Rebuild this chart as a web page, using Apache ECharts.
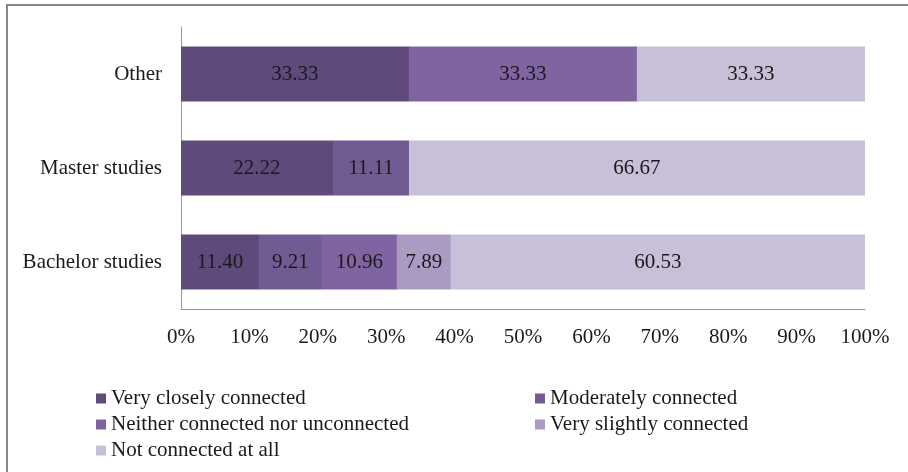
<!DOCTYPE html>
<html>
<head>
<meta charset="utf-8">
<script src="https://cdn.jsdelivr.net/npm/echarts@6/dist/echarts.min.js"></script>
<style>
html,body{margin:0;padding:0;background:#fff;}
#chart{width:908px;height:472px;}
</style>
</head>
<body>
<div id="chart"></div>
<script>
const categories = ['Bachelor studies', 'Master studies', 'Other'];
const seriesNames = ['Very closely connected', 'Moderately connected', 'Neither connected nor unconnected', 'Very slightly connected', 'Not connected at all'];
const veryClosely = [11.40, 22.22, 33.33];
const moderately = [9.21, 11.11, null];
const neither = [10.96, null, 33.33];
const verySlightly = [7.89, null, null];
const notAtAll = [60.53, 66.67, 33.33];
const xTickLabels = ['0%', '10%', '20%', '30%', '40%', '50%', '60%', '70%', '80%', '90%', '100%'];

const colors = ['#5f4a7b', '#725a92', '#8064a2', '#a99bc1', '#c8c0d8'];
const values = [veryClosely, moderately, neither, verySlightly, notAtAll];
const FONT = 'Liberation Serif';

const series = seriesNames.map((name, i) => ({
  name: name,
  type: 'bar',
  stack: 'total',
  barWidth: 55,
  data: values[i],
  itemStyle: { color: colors[i] },
  label: {
    show: true,
    position: 'inside',
    color: '#1a1a1a',
    fontFamily: FONT,
    fontSize: 21,
    formatter: p => (p.value == null ? '' : Number(p.value).toFixed(2))
  },
  emphasis: { disabled: true }
}));

const legendPos = [
  { left: 96, top: 388 },
  { left: 535, top: 388 },
  { left: 96, top: 414 },
  { left: 535, top: 414 },
  { left: 96, top: 440 }
];
const legends = seriesNames.map((name, i) => ({
  data: [name],
  left: legendPos[i].left,
  top: legendPos[i].top,
  padding: 0,
  itemWidth: 10,
  itemHeight: 10,
  icon: 'rect',
  selectedMode: false,
  textStyle: { fontFamily: FONT, fontSize: 21, lineHeight: 20, color: '#1a1a1a' }
}));

const chart = echarts.init(document.getElementById('chart'));
chart.setOption({
  animation: false,
  color: colors,
  graphic: [{
    type: 'rect',
    shape: { x: 7, y: 5, width: 1000, height: 1000 },
    style: { fill: 'none', stroke: '#878787', lineWidth: 2 },
    silent: true
  }],
  grid: { left: 181, right: 43, top: 27, bottom: 163, containLabel: false },
  legend: legends,
  xAxis: {
    type: 'value',
    min: 0,
    max: 100,
    interval: 10,
    axisLine: { show: true, lineStyle: { color: '#9a9a9a', width: 1 } },
    axisTick: { show: false },
    splitLine: { show: false },
    axisLabel: {
      margin: 18,
      fontFamily: FONT,
      fontSize: 21,
      color: '#1a1a1a',
      formatter: (v) => xTickLabels[Math.round(v / 10)]
    }
  },
  yAxis: {
    type: 'category',
    data: categories,
    axisLine: { show: true, lineStyle: { color: '#9a9a9a', width: 1 } },
    axisTick: { show: false },
    axisLabel: { margin: 19, fontFamily: FONT, fontSize: 21, color: '#1a1a1a' }
  },
  series: series
});
</script>
</body>
</html>
